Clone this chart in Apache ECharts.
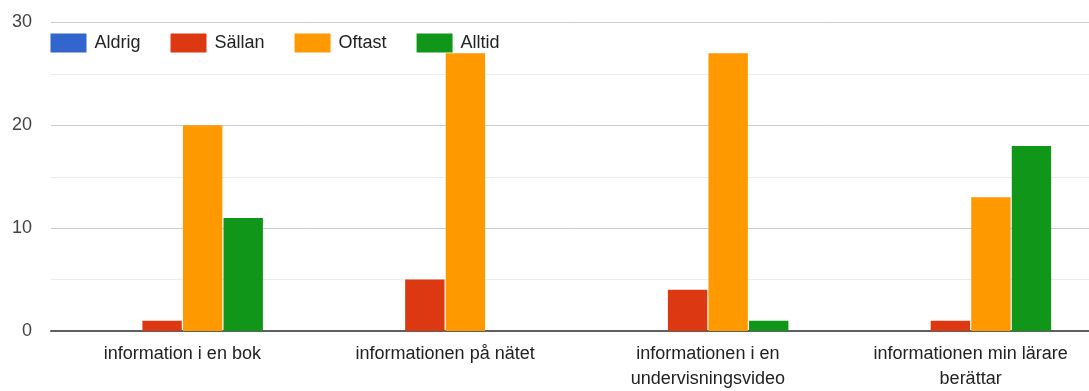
<!DOCTYPE html>
<html>
<head>
<meta charset="utf-8">
<script src="https://cdn.jsdelivr.net/npm/echarts@6/dist/echarts.min.js"></script>
<style>
  html, body { margin: 0; padding: 0; background: #fff; overflow: hidden; }
  #chart { width: 1089px; height: 391px; }
</style>
</head>
<body>
<div id="chart"></div>
<script>
// Answer categories and how many chose each option
const categories = [
  'information i en bok',
  'informationen på nätet',
  'informationen i en\nundervisningsvideo',
  'informationen min lärare\nberättar'
];
const aldrig = [0, 0, 0, 0];
const sallan = [1, 5, 4, 1];
const oftast = [20, 27, 27, 13];
const alltid = [11, 0, 1, 18];
const yTicks = [0, 10, 20, 30];

const FONT = '"Liberation Sans", Arial, sans-serif';
const colors = ['#3366cc', '#dc3912', '#ff9900', '#109618'];

function barSeries(name, data, color) {
  return {
    name: name,
    type: 'bar',
    data: data,
    barGap: '3%',
    barCategoryGap: '38.7%',
    itemStyle: { color: color },
    emphasis: { disabled: true }
  };
}

const chart = echarts.init(document.getElementById('chart'), null, { renderer: 'canvas' });
chart.setOption({
  animation: false,
  color: colors,
  textStyle: { fontFamily: FONT },
  legend: {
    left: 50.5,
    top: 33.5,
    padding: 0,
    itemWidth: 36,
    itemHeight: 19,
    itemGap: 30,
    icon: 'rect',
    textStyle: { fontSize: 18, color: '#222', fontFamily: FONT, padding: [0, 0, 0, 3] },
    data: ['Aldrig', 'Sällan', 'Oftast', 'Alltid']
  },
  // the plot runs a little past the right edge of the canvas
  grid: {
    left: 51, width: 1051, top: 22.5, bottom: 60,
    containLabel: false, outerBoundsMode: 'none'
  },
  xAxis: {
    type: 'category',
    data: categories,
    axisTick: { show: false },
    axisLine: { show: true, lineStyle: { color: '#5f5f5f', width: 2 } },
    axisLabel: {
      fontSize: 18, color: '#222', fontFamily: FONT,
      margin: 11, lineHeight: 25, interval: 0
    }
  },
  yAxis: {
    type: 'value',
    min: yTicks[0],
    max: yTicks[yTicks.length - 1],
    interval: 10,
    axisLine: { show: false },
    axisTick: { show: false },
    axisLabel: { fontSize: 18, color: '#444', fontFamily: FONT, margin: 19 },
    splitLine: { lineStyle: { color: '#cccccc', width: 1 } },
    minorTick: { show: false, splitNumber: 2 },
    minorSplitLine: { show: true, lineStyle: { color: '#ececec', width: 1 } }
  },
  series: [
    barSeries('Aldrig', aldrig, colors[0]),
    barSeries('Sällan', sallan, colors[1]),
    barSeries('Oftast', oftast, colors[2]),
    barSeries('Alltid', alltid, colors[3])
  ]
});
</script>
</body>
</html>
